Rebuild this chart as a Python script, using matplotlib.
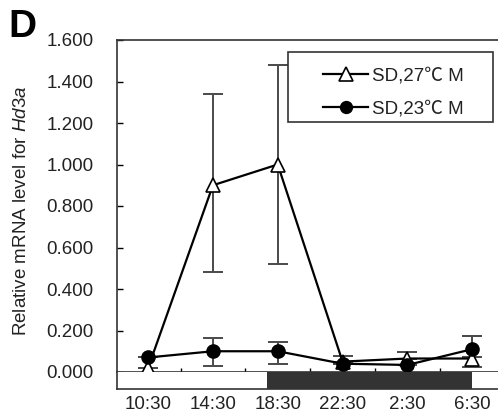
import matplotlib
matplotlib.use("Agg")
import matplotlib.pyplot as plt
from matplotlib.patches import Rectangle
import numpy as np

plt.rcParams["font.family"] = ["Liberation Sans", "Noto Sans CJK SC", "DejaVu Sans"]
plt.rcParams["mathtext.fontset"] = "custom"
plt.rcParams["mathtext.rm"] = "Liberation Sans"
plt.rcParams["mathtext.it"] = "Liberation Sans:italic"

# --- data ---
times = ["10:30", "14:30", "18:30", "22:30", "2:30", "6:30"]
sd27_mean = [0.02, 0.90, 1.00, 0.05, 0.065, 0.065]
sd27_err_lo = [0.00, 0.42, 0.48, 0.01, 0.00, 0.04]
sd27_err_hi = [0.00, 0.44, 0.48, 0.00, 0.03, 0.11]
sd23_mean = [0.07, 0.10, 0.10, 0.04, 0.034, 0.11]
sd23_err_lo = [0.00, 0.07, 0.06, 0.00, 0.00, 0.04]
sd23_err_hi = [0.00, 0.065, 0.045, 0.035, 0.00, 0.065]
yticks = [0.0, 0.2, 0.4, 0.6, 0.8, 1.0, 1.2, 1.4, 1.6]
dark_start, dark_end = 1.83, 5.0   # lights-off period on the category axis

x = np.arange(len(times))
XLIM = (-0.48, 5.46)
TXT = "#222222"
FS = 13.5

fig = plt.figure(figsize=(4.98, 4.17), dpi=100)
ax = fig.add_axes([117 / 498, 45 / 417, 385 / 498, 332 / 417])
ax_bar = fig.add_axes([117 / 498, 28 / 417, 385 / 498, 17 / 417])

ax.errorbar(x, sd27_mean, yerr=[sd27_err_lo, sd27_err_hi], fmt="none",
            ecolor="#4a4a4a", elinewidth=1.4, capsize=7, capthick=1.4, zorder=2)
ax.errorbar(x, sd23_mean, yerr=[sd23_err_lo, sd23_err_hi], fmt="none",
            ecolor="#4a4a4a", elinewidth=1.4, capsize=7, capthick=1.4, zorder=2)
l27, = ax.plot(x, sd27_mean, color="black", lw=1.6, marker="^", ms=10.5,
               mfc="white", mec="black", mew=1.2, zorder=3)
l23, = ax.plot(x, sd23_mean, color="black", lw=1.6, marker="o", ms=9.5,
               mfc="black", mec="black", zorder=4)

ax.set_xlim(*XLIM)
ax.set_ylim(0, 1.6)
ax.set_yticks(yticks)
ax.set_yticklabels([f"{v:.3f}" for v in yticks])
ax.tick_params(axis="y", direction="in", length=4, width=1, pad=17,
               labelsize=FS, labelcolor=TXT)
ax.set_xticks(x[:-1] + 0.5)
ax.tick_params(axis="x", direction="in", length=3, width=1,
               labelbottom=False)
for s in ax.spines.values():
    s.set_linewidth(1.2)
    s.set_color("#333333")

# light / dark bar under the x axis
ax_bar.set_xlim(*XLIM)
ax_bar.set_ylim(0, 1)
ax_bar.add_patch(Rectangle((dark_start, 0), dark_end - dark_start, 1,
                           facecolor="#333333", edgecolor="none"))
ax_bar.set_yticks([])
ax_bar.set_xticks(x)
ax_bar.set_xticklabels(times)
ax_bar.tick_params(axis="x", length=0, pad=5, labelsize=FS, labelcolor=TXT)
for s in ax_bar.spines.values():
    s.set_linewidth(1.2)
    s.set_color("#333333")
ax_bar.spines["top"].set_visible(False)

fig.text(22 / 498, 206 / 417, r"Relative mRNA level for $\mathit{Hd3a}$",
         rotation=90, ha="center", va="center", fontsize=FS, color=TXT)
fig.text(8 / 498, 1 - 27 / 417, "D", fontsize=28, fontweight="bold",
         ha="left", va="center", color="black")

# legend with a wide frame
fig.patches.append(Rectangle((288 / 498, 1 - 122 / 417), 205 / 498, 70 / 417,
                             transform=fig.transFigure, facecolor="white",
                             edgecolor="#333333", lw=1.2, zorder=5))
leg = fig.legend([l27, l23], ["SD,27℃ M", "SD,23℃ M"], loc="upper left",
                 bbox_to_anchor=(308 / 498, 1 - 52 / 417), frameon=False,
                 fontsize=FS, handlelength=2.4, handletextpad=0.2,
                 labelspacing=0.85, borderpad=0.3, markerscale=0.9)
for t in leg.get_texts():
    t.set_color(TXT)
leg.set_zorder(6)

fig.savefig("out.png", dpi=100)
